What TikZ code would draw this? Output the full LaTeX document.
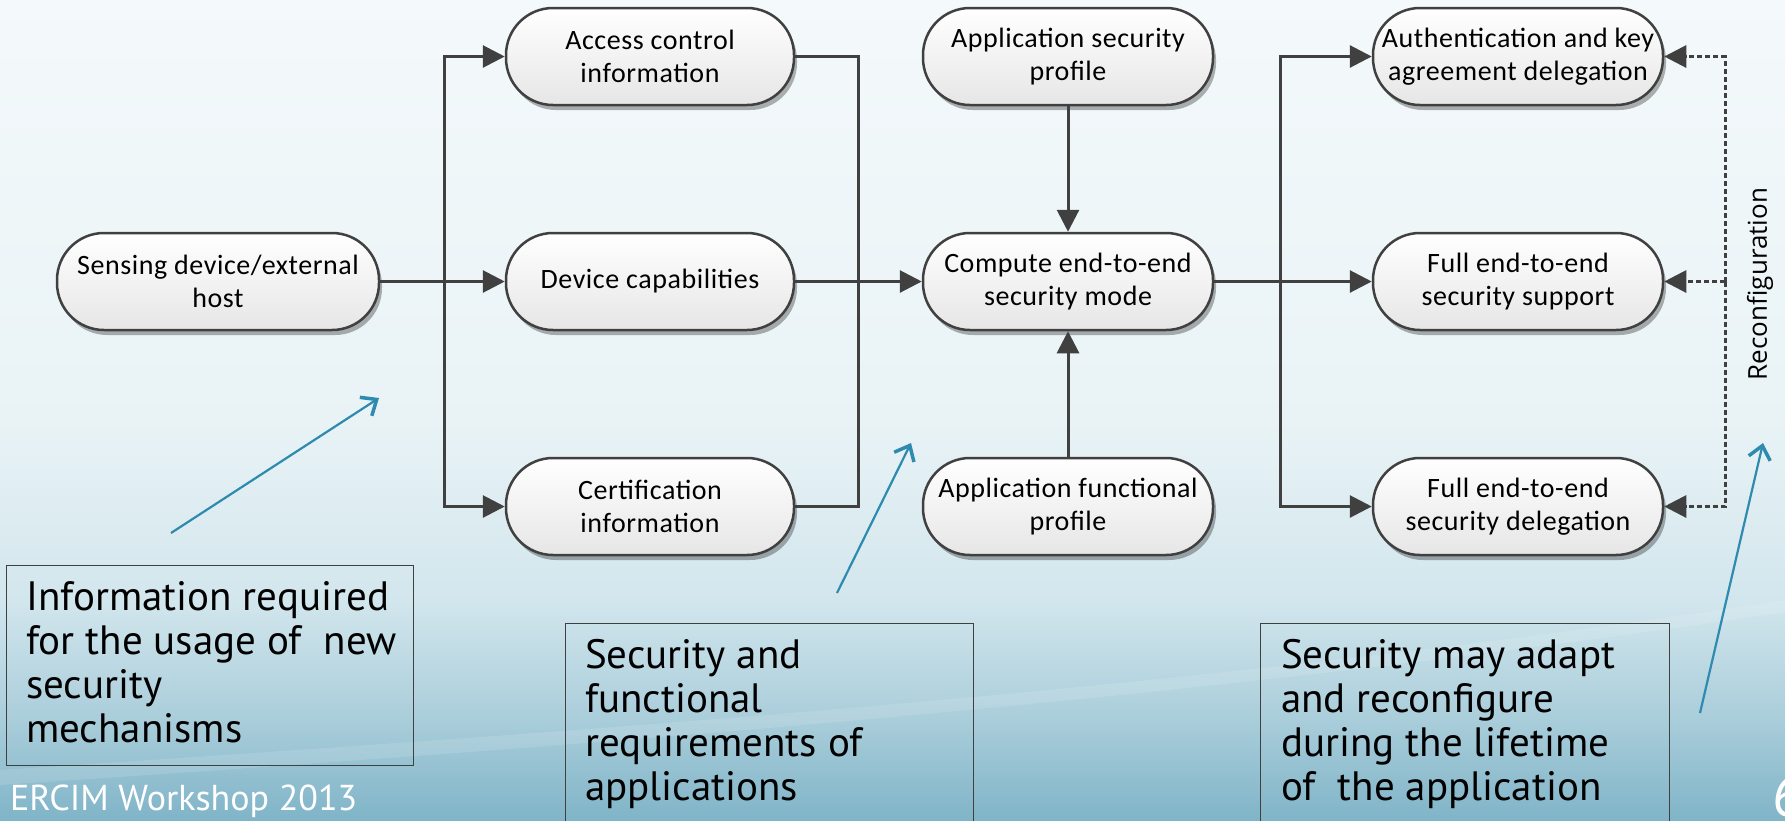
\documentclass[tikz,border=0pt]{standalone}
\usepackage{fontspec}
\setmainfont{Carlito}
\newfontfamily\boxfont[LetterSpace=2]{Carlito}
\newfontfamily\annfont{PT Sans}
\newfontfamily\recfont{Open Sans}
\usetikzlibrary{shadows,arrows.meta,calc}
\definecolor{linegray}{HTML}{404040}
\definecolor{annblue}{HTML}{2E8AAE}
\definecolor{boxgray}{HTML}{E6E6E6}
\definecolor{bgA}{HTML}{F4F9FB}
\definecolor{bgB}{HTML}{E9F3F6}
\definecolor{bgC}{HTML}{D2E6ED}
\definecolor{bgD}{HTML}{A9CDDA}
\definecolor{bgE}{HTML}{80B4C8}
\begin{document}
\begin{tikzpicture}[x=1pt,y=-1pt,
  proc/.style={rectangle, rounded corners=47pt, draw=linegray, line width=2.5pt,
    top color=white, bottom color=boxgray, minimum width=290pt, minimum height=97pt,
    inner xsep=0pt, align=center, font=\boxfont\fontsize{28}{33}\selectfont,
    drop shadow={shadow xshift=3pt, shadow yshift=-5pt, opacity=0.3, fill=black}},
  arr/.style={draw=linegray, line width=3pt, -{Triangle[length=22pt,width=22pt]}},
  conn/.style={draw=linegray, line width=3pt},
  recon/.style={draw=linegray, line width=3pt, dash pattern=on 5pt off 3pt, -{Triangle[length=22pt,width=22pt]}},
  annbox/.style={draw=black!75, line width=1.2pt, anchor=north west},
  anntext/.style={anchor=north west, inner sep=0pt, align=left, font=\annfont\fontsize{41}{44}\selectfont},
  hint/.style={draw=annblue, line width=2.2pt, -{Straight Barb[length=13pt,width=22pt,line width=3.5pt]}}]
% background
\useasboundingbox (0,0) rectangle (1785,820);
\fill[top color=bgA, bottom color=bgB] (0,0) rectangle (1785,421);
\fill[top color=bgB, bottom color=bgC] (0,420) rectangle (1785,601);
\fill[top color=bgC, bottom color=bgD] (0,600) rectangle (1785,721);
\fill[top color=bgD, bottom color=bgE] (0,720) rectangle (1785,820);
\fill[white, opacity=0.12] (0,770) .. controls (600,730) and (1200,690) .. (1785,600) -- (1785,612) .. controls (1200,700) and (600,745) .. (0,785) -- cycle;

% process nodes
\node[proc, minimum width=322pt] (sens) at (218,281.5) {Sensing device/external\\host};
\node[proc, minimum width=288pt] (acc) at (650,56.5) {Access control\\information};
\node[proc, minimum width=288pt] (dev) at (650,281.5) {Device capabilities};
\node[proc, minimum width=288pt] (cert) at (650,506.5) {Certification\\information};
\node[proc] (asp) at (1068,56.5) {Application security\\profile};
\node[proc] (comp) at (1068,281.5) {Compute end-to-end\\security mode};
\node[proc] (afp) at (1068,506.5) {Application functional\\profile};
\node[proc] (auth) at (1518,56.5) {Authentication and key\\agreement delegation};
\node[proc] (sup) at (1518,281.5) {Full end-to-end\\security support};
\node[proc] (del) at (1518,506.5) {Full end-to-end\\security delegation};

% connectors
\coordinate (b1) at (444,281.5);
\coordinate (b2) at (858,281.5);
\coordinate (b3) at (1280,281.5);
\coordinate (b4) at (1725,281.5);
\draw[arr] (sens.east) -- (dev.west);
\draw[arr] (b1) |- (acc.west);
\draw[arr] (b1) |- (cert.west);
\draw[conn] (acc.east) -| (b2);
\draw[conn] (cert.east) -| (b2);
\draw[arr] (dev.east) -- (comp.west);
\draw[arr] (asp.south) -- (comp.north);
\draw[arr] (afp.north) -- (comp.south);
\draw[arr] (comp.east) -- (sup.west);
\draw[arr] (b3) |- (auth.west);
\draw[arr] (b3) |- (del.west);
\draw[recon] (b4) |- (auth.east);
\draw[recon] (b4) -- (sup.east);
\draw[recon] (b4) |- (del.east);
\node[rotate=90, font=\recfont\fontsize{26}{30}\selectfont] (rec) at (1760,284) {Reconfiguration};

% annotation boxes
\node[annbox, minimum width=407pt, minimum height=200pt] (n1) at (6,565) {};
\node[anntext] (t1) at (26,581) {Information required\\for the usage of\ \ new\\security\\mechanisms};
\node[annbox, minimum width=408pt, minimum height=220pt] (n2) at (565,623) {};
\node[anntext] (t2) at (585,639) {Security and\\functional\\requirements of\\applications};
\node[annbox, minimum width=409pt, minimum height=220pt] (n3) at (1260,623) {};
\node[anntext] (t3) at (1281,639) {Security may adapt\\and reconfigure\\during the lifetime\\of\ \ the application};

% hint arrows
\coordinate (h1s) at (171,533); \coordinate (h1e) at (379,398);
\coordinate (h2s) at (837,593); \coordinate (h2e) at (911,443);
\coordinate (h3s) at (1700,713); \coordinate (h3e) at (1763,443);
\draw[hint] (h1s) -- (h1e);
\draw[hint] (h2s) -- (h2e);
\draw[hint] (h3s) -- (h3e);

% footer
\node[anchor=base west, inner sep=0pt, text=white, font=\annfont\fontsize{36}{40}\selectfont] (foot) at (10,810) {ERCIM Workshop 2013};
\node[anchor=base west, inner sep=0pt, text=white, font=\annfont\fontsize{58}{60}\selectfont] (page) at (1772,816) {6};
\end{tikzpicture}
\end{document}
